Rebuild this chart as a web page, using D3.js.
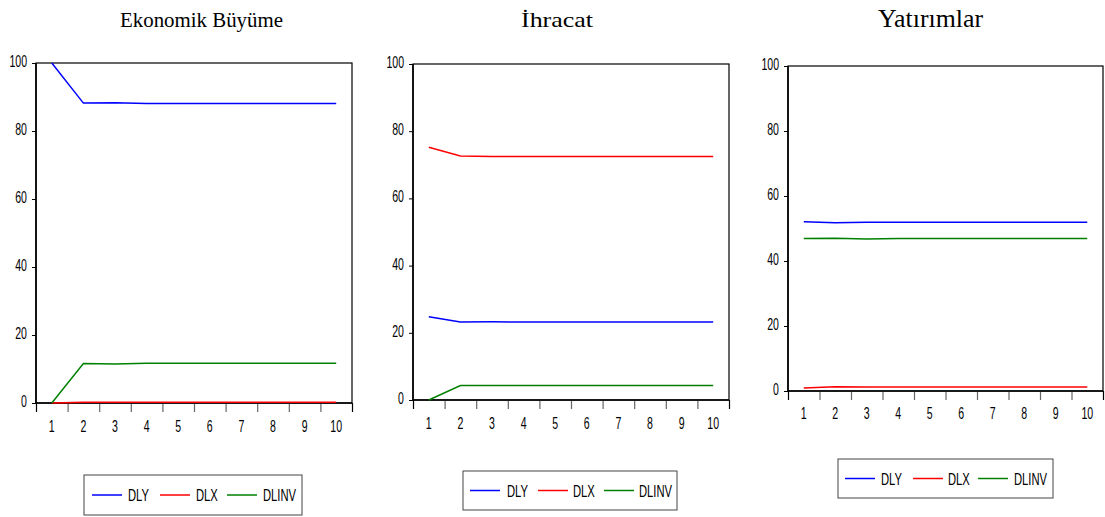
<!DOCTYPE html>
<html><head><meta charset="utf-8">
<script src="https://cdn.jsdelivr.net/npm/d3@7"></script>
<style>body{margin:0;background:#fff}svg{display:block}</style>
</head><body>
<svg id="c" width="1105" height="517"></svg>
<script>
// ---- data ----
const periods = [1,2,3,4,5,6,7,8,9,10];
const seriesNames = ["DLY","DLX","DLINV"];
const seriesColors = ["#0000ff","#ff0000","#008000"];
const yTicks = [0,20,40,60,80,100];
const titles = ["Ekonomik Büyüme","İhracat","Yatırımlar"];

const ekoDLY   = [100, 88.2, 88.3, 88.1, 88.1, 88.1, 88.1, 88.1, 88.1, 88.1];
const ekoDLX   = [0, 0.2, 0.2, 0.2, 0.2, 0.2, 0.2, 0.2, 0.2, 0.2];
const ekoDLINV = [0, 11.6, 11.5, 11.7, 11.7, 11.7, 11.7, 11.7, 11.7, 11.7];

const ihrDLY   = [24.8, 23.2, 23.3, 23.2, 23.2, 23.2, 23.2, 23.2, 23.2, 23.2];
const ihrDLX   = [75.2, 72.6, 72.5, 72.5, 72.5, 72.5, 72.5, 72.5, 72.5, 72.5];
const ihrDLINV = [0, 4.3, 4.3, 4.3, 4.3, 4.3, 4.3, 4.3, 4.3, 4.3];

const yatDLY   = [52.1, 51.8, 51.9, 51.9, 51.9, 51.9, 51.9, 51.9, 51.9, 51.9];
const yatDLX   = [0.9, 1.3, 1.2, 1.2, 1.2, 1.2, 1.2, 1.2, 1.2, 1.2];
const yatDLINV = [46.9, 47.0, 46.8, 46.9, 46.9, 46.9, 46.9, 46.9, 46.9, 46.9];

const panelData = [
  [ekoDLY, ekoDLX, ekoDLINV],
  [ihrDLY, ihrDLX, ihrDLINV],
  [yatDLY, yatDLX, yatDLINV]
];

// ---- layout (positions / styles only) ----
const layout = [
  {l:36,  r:352,  t:63, b:403, titleX:201.5, titleSize:21, titleLen:163, xLabY:432, leg:{x:84,  y:475, w:218, h:40, items:[[92,128],[160,196],[227,263]]}},
  {l:413, r:729,  t:64, b:400, titleX:557,   titleSize:22, titleLen:72,  xLabY:429, leg:{x:463, y:471, w:214, h:39, items:[[470,507],[538,573],[604,639]]}},
  {l:788, r:1103, t:66, b:391, titleX:930.5, titleSize:25, titleLen:105, xLabY:419, leg:{x:838, y:459, w:215, h:39, items:[[845,881],[913,948],[978,1014]]}}
];

const SX = 0.66;   // horizontal condensing of the sans text
const svg = d3.select("#c");

function narrowText(g, x, y, txt, size, anchor){
  return g.append("text")
    .attr("transform", `translate(${x},${y}) scale(${SX},1)`)
    .attr("font-family","Liberation Sans, Arial, sans-serif")
    .attr("font-size", size)
    .attr("text-anchor", anchor)
    .attr("fill","#000")
    .text(txt);
}

panelData.forEach((series, i) => {
  const L = layout[i];
  const g = svg.append("g");
  const x = d3.scaleLinear().domain([0.5, 10.5]).range([L.l, L.r]);
  const y = d3.scaleLinear().domain([0, 100]).range([L.b, L.t]);

  // title
  g.append("text").attr("x", L.titleX - L.titleLen/2).attr("y", 26.5)
    .attr("font-family","Liberation Serif, Times New Roman, serif")
    .attr("font-size", L.titleSize)
    .attr("textLength", L.titleLen).attr("lengthAdjust","spacingAndGlyphs")
    .attr("fill","#000").text(titles[i]);

  // frame
  g.append("rect").attr("x", L.l).attr("y", L.t)
    .attr("width", L.r - L.l).attr("height", L.b - L.t)
    .attr("fill","none").attr("stroke","#000").attr("stroke-width",1.2);

  // x boundary ticks
  const bounds = d3.range(0.5, 11, 1);
  const xAx = d3.axisBottom(x).tickValues(bounds).tickSize(9).tickFormat("");
  const gx = g.append("g").attr("transform", `translate(0,${L.b})`).call(xAx);
  gx.select(".domain").remove();
  gx.selectAll(".tick line")
    .attr("stroke", (d, k) => (k === 0 || k === bounds.length - 1) ? "#000" : "#666")
    .attr("stroke-width",1.2);

  // x labels
  periods.forEach(p => narrowText(g, x(p), L.xLabY, String(p), 16, "middle"));

  // y axis ticks
  const yAx = d3.axisLeft(y).tickValues(yTicks).tickSize(4).tickFormat("");
  const gy = g.append("g").attr("transform", `translate(${L.l},0)`).call(yAx);
  gy.select(".domain").remove();
  gy.selectAll(".tick line").attr("stroke","#000");
  yTicks.forEach(v => narrowText(g, L.l - 9, y(v) + 4, String(v), 16, "end"));

  // axis lines slightly heavier (left & bottom)
  g.append("line").attr("x1", L.l).attr("x2", L.l).attr("y1", L.t).attr("y2", L.b)
    .attr("stroke","#000").attr("stroke-width",1.6);
  g.append("line").attr("x1", L.l).attr("x2", L.r).attr("y1", L.b).attr("y2", L.b)
    .attr("stroke","#000").attr("stroke-width",1.6);

  // lines
  const line = d3.line().x((d, k) => x(periods[k])).y(d => y(d));
  series.forEach((vals, s) => {
    g.append("path").datum(vals)
      .attr("d", line)
      .attr("fill","none")
      .attr("stroke", seriesColors[s])
      .attr("stroke-width", 1.5);
  });

  // legend
  const Lg = L.leg;
  g.append("rect").attr("x", Lg.x).attr("y", Lg.y).attr("width", Lg.w).attr("height", Lg.h)
    .attr("fill","#fff").attr("stroke","#444").attr("stroke-width",1);
  const cy = Lg.y + Lg.h/2;
  seriesNames.forEach((nm, s) => {
    const [lx, tx] = Lg.items[s];
    g.append("line").attr("x1", lx).attr("x2", lx + 30).attr("y1", cy).attr("y2", cy)
      .attr("stroke", seriesColors[s]).attr("stroke-width", 1.5);
    narrowText(g, tx, cy + 6, nm, 17, "start");
  });
});
</script>
</body></html>
